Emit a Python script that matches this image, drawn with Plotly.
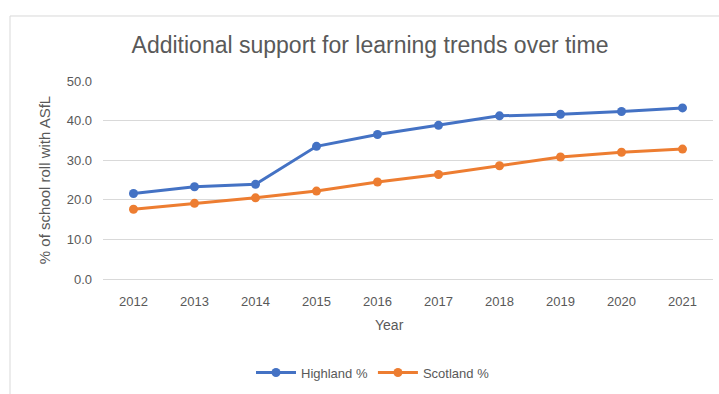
import plotly.graph_objects as go

years = ["2012", "2013", "2014", "2015", "2016", "2017", "2018", "2019", "2020", "2021"]
highland = [21.6, 23.3, 23.9, 33.5, 36.5, 38.8, 41.2, 41.6, 42.3, 43.2]
scotland = [17.6, 19.1, 20.5, 22.2, 24.5, 26.4, 28.6, 30.8, 32.0, 32.8]

W, H = 719, 394
ML, MR, MT, MB = 103, 6, 81, 112
TEXT = "#595959"
GRID = "#d9d9d9"
FONT = "Liberation Sans"

fig = go.Figure()
fig.add_trace(go.Scatter(
    x=years, y=highland, name="Highland %", mode="lines+markers",
    line=dict(color="#4472C4", width=3), marker=dict(size=9, color="#4472C4"),
))
fig.add_trace(go.Scatter(
    x=years, y=scotland, name="Scotland %", mode="lines+markers",
    line=dict(color="#ED7D31", width=3), marker=dict(size=9, color="#ED7D31"),
))

pw = W - ML - MR
ph = H - MT - MB

def px_x(x):
    return (x - ML) / pw

def px_y(y):
    return (H - MB - y) / ph

# chart frame: top and left edges
fig.add_shape(type="line", xref="paper", yref="paper",
              x0=px_x(10), x1=px_x(W + 5), y0=px_y(15), y1=px_y(15),
              line=dict(color=GRID, width=1))
fig.add_shape(type="line", xref="paper", yref="paper",
              x0=px_x(10), x1=px_x(10), y0=px_y(15), y1=px_y(H + 5),
              line=dict(color=GRID, width=1))

# x-axis title
fig.add_annotation(text="Year", xref="paper", yref="paper",
                   x=px_x(389), y=px_y(329), xanchor="center", yanchor="middle",
                   showarrow=False, font=dict(size=14, color=TEXT, family=FONT))

fig.update_layout(
    width=W, height=H,
    margin=dict(l=ML, r=MR, t=MT, b=MB),
    paper_bgcolor="white", plot_bgcolor="white",
    font=dict(family=FONT, color=TEXT, size=13),
    title=dict(text="Additional support for learning trends over time",
               x=370 / W, xanchor="center", y=1 - 45 / H, yanchor="middle",
               font=dict(size=23, color=TEXT, family=FONT)),
    xaxis=dict(type="category", range=[-0.5, 9.5], showgrid=False,
               showline=False, zeroline=False, ticks="", ticklabelstandoff=13,
               tickfont=dict(size=13, color=TEXT)),
    yaxis=dict(range=[0, 50], dtick=10, tickformat=".1f",
               showgrid=True, gridcolor=GRID, gridwidth=1,
               zeroline=True, zerolinecolor=GRID, zerolinewidth=1,
               showline=False, ticks="", ticklabelstandoff=10,
               tickfont=dict(size=13, color=TEXT),
               title=dict(text="% of school roll with ASfL", font=dict(size=15, color=TEXT), standoff=12)),
    legend=dict(orientation="h", x=px_x(373), xanchor="center",
                y=px_y(377), yanchor="middle",
                font=dict(size=13, color=TEXT), itemwidth=40),
    showlegend=True,
)

fig.write_html("out.html")
